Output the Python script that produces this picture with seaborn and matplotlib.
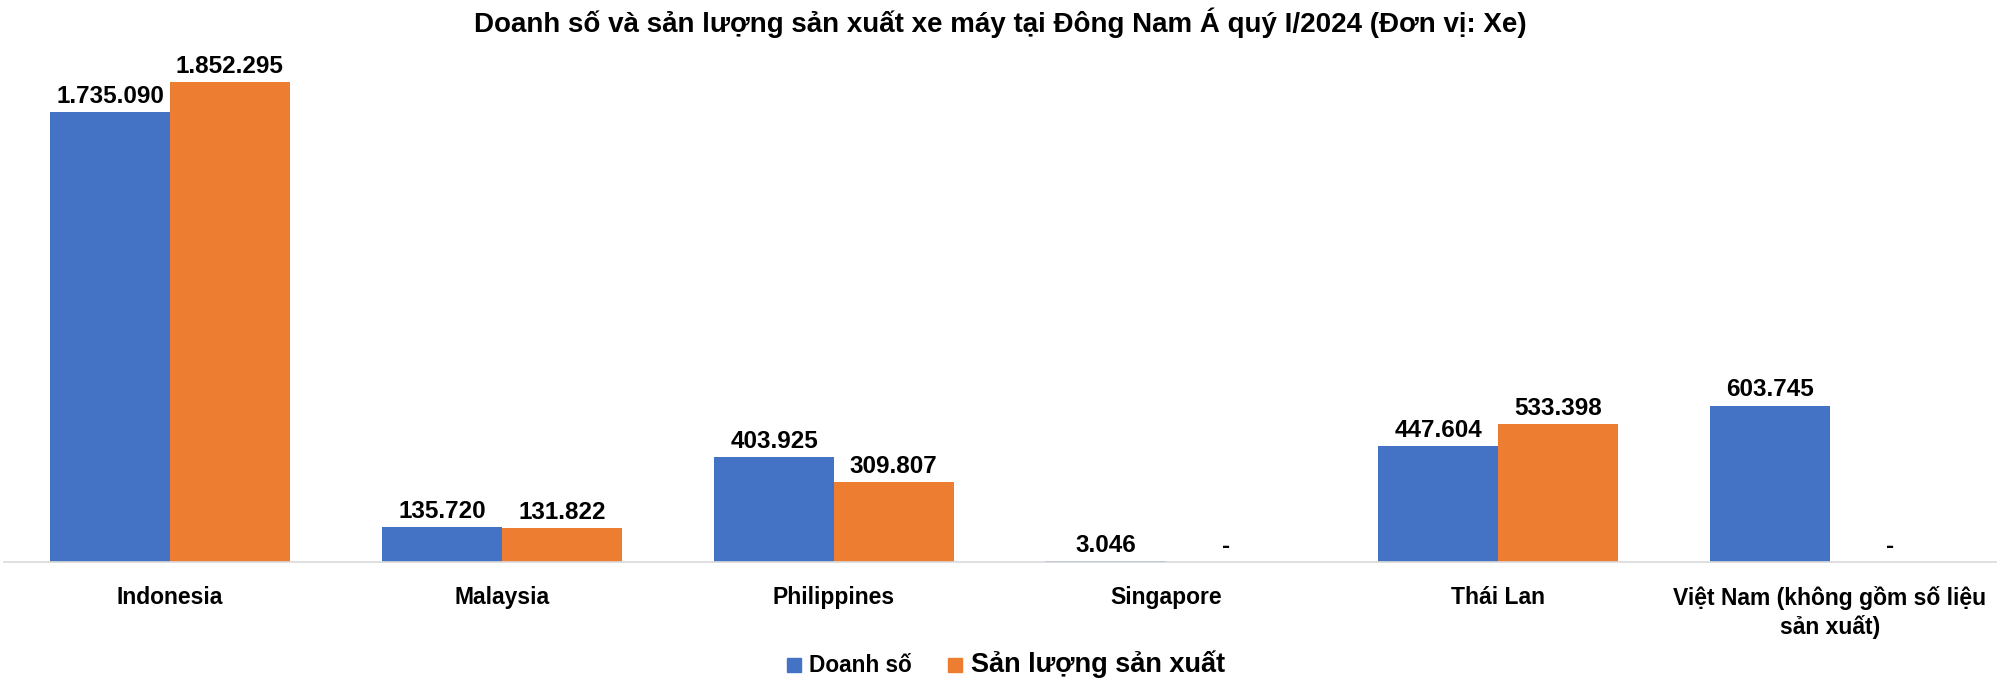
import pandas as pd
import seaborn as sns
import matplotlib.pyplot as plt

countries = ["Indonesia", "Malaysia", "Philippines", "Singapore", "Thái Lan",
             "Việt Nam (không gồm số liệu\nsản xuất)"]
doanh_so = [1735090, 135720, 403925, 3046, 447604, 603745]
san_luong = [1852295, 131822, 309807, None, 533398, None]
series = ["Doanh số", "Sản lượng sản xuất"]
colors = ["#4472C4", "#ED7D31"]

sns.set_theme(style="white")
plt.rcParams['font.family'] = ['Liberation Sans', 'DejaVu Sans']
plt.rcParams['text.color'] = 'black'
plt.rcParams['xtick.color'] = 'black'

rows = []
for c, a, b in zip(countries, doanh_so, san_luong):
    rows.append({"country": c, "series": series[0], "value": a})
    rows.append({"country": c, "series": series[1], "value": b})
df = pd.DataFrame(rows)
df["plot_value"] = df["value"].fillna(0)

fig = plt.figure(figsize=(20, 6.82), dpi=100)
ax = fig.add_axes([0.002, 0.176, 0.996, 0.76])

sns.barplot(data=df, x="country", y="plot_value", hue="series", order=countries,
            hue_order=series, palette=colors, width=0.72, saturation=1,
            linewidth=0, legend=False, ax=ax)


def fmt(v):
    if v is None or pd.isna(v):
        return "-"
    return f"{int(v):,}".replace(",", ".")


for cont, vals in zip(ax.containers, [doanh_so, san_luong]):
    ax.bar_label(cont, labels=[fmt(v) for v in vals], padding=3,
                 fontsize=17.5, fontweight="bold", color="black")

ax.set_ylim(0, 2000000)
ax.set_xlim(-0.5, len(countries) - 0.5)
ax.set_yticks([])
ax.set_xlabel("")
ax.set_ylabel("")
for s in ["top", "right", "left"]:
    ax.spines[s].set_visible(False)
ax.spines["bottom"].set_color("#D9D9D9")
ax.spines["bottom"].set_linewidth(1.2)
ax.tick_params(axis="x", length=0, pad=17)
for lbl in ax.get_xticklabels():
    lbl.set_fontsize(16.5)
    lbl.set_fontweight("bold")
    lbl.set_linespacing(1.3)

fig.text(0.5, 0.953,
         "Doanh số và sản lượng sản xuất xe máy tại Đông Nam Á quý I/2024 (Đơn vị: Xe)",
         ha="center", va="baseline", fontsize=20, fontweight="bold")

# legend: two entries with different text sizes like the original
fig.patches.append(plt.Rectangle((0.3935, 0.0147), 0.007, 0.0205, color=colors[0],
                                 transform=fig.transFigure, figure=fig))
fig.text(0.4045, 0.0147, series[0], fontsize=16.3, fontweight="bold", va="baseline")
fig.patches.append(plt.Rectangle((0.474, 0.0147), 0.007, 0.0205, color=colors[1],
                                 transform=fig.transFigure, figure=fig))
fig.text(0.4855, 0.0147, series[1], fontsize=19.5, fontweight="bold", va="baseline")

fig.savefig("out.png", dpi=100, facecolor="white")
